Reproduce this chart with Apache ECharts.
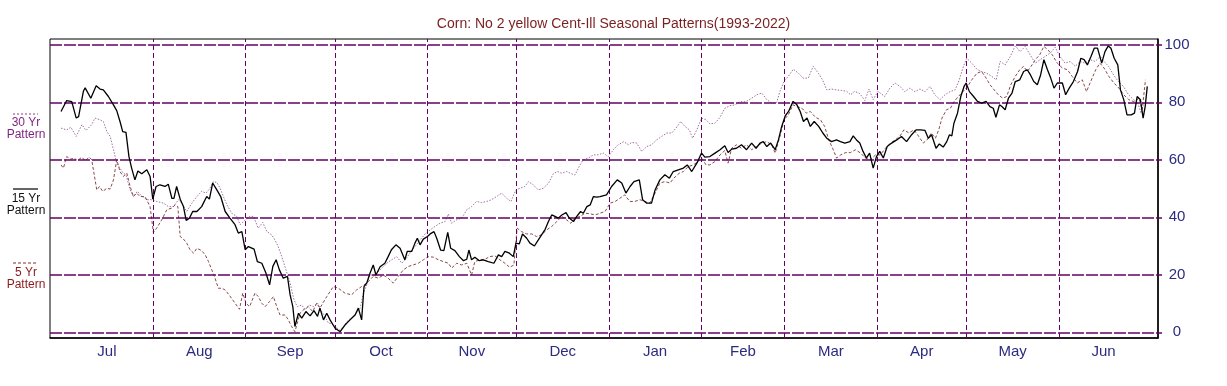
<!DOCTYPE html>
<html><head><meta charset="utf-8">
<script src="https://cdn.jsdelivr.net/npm/echarts@6/dist/echarts.min.js"></script>
<style>html,body{margin:0;padding:0;background:#fff}#c{width:1227px;height:386px}</style>
</head><body><div id="c"></div>
<script>
// x = calendar day counted from July 1 (season year), y = seasonal index 0..100
const monthNames = ['Jul','Aug','Sep','Oct','Nov','Dec','Jan','Feb','Mar','Apr','May','Jun'];
const monthStartDays = [0,31,62,92,123,153,184,215,243,274,304,335,365];
const yTicks = [0,20,40,60,80,100];

const days15 = [0.1,2,3.7,5.2,6,7.6,8.2,10.1,11.9,13.2,14.3,16,17.7,18.8,19.9,20.8,21.9,22.9,23.8,24.9,25.9,27.2,28.9,30,30.9,32,33.3,35,36.1,37.3,38,38.9,40.1,41.2,42.1,43.2,44.3,45.7,47.3,49,49.9,51,52.4,53.7,55.2,56.8,58.5,59.6,60.8,61.9,63,63.6,64.9,66,67.5,68.9,70.1,71.2,72.3,73.4,74.7,76.1,77,77.9,78.6,79.8,80.9,82.3,83.7,85,86.2,87,88.2,89.3,90.4,92.1,93.8,95.4,97.1,98.8,99.9,101,101.8,102.7,103.8,104.9,105.8,107.2,108.8,109.9,111,112.5,113.9,115.5,116.3,117.8,118.9,119.7,120.6,121.7,123.1,124,125.3,126.2,127.5,128.6,129.9,130.9,132.3,133.8,135.2,136.3,137,137.9,139,140.5,141.8,143.5,145.4,146.9,148,149.1,150.6,151.9,152.8,153.9,155,156.4,157.5,159,160.3,161.4,162.6,163.7,164.8,165.9,167,168.2,169.6,170.7,172.1,173.2,174.5,175.4,176.6,177.7,178.8,179.9,181,183.2,184.9,186.8,188.3,189.7,191.1,192.4,194.2,195.3,196.7,198.3,199.5,201.1,202.8,204.3,205.6,207.3,209,210.3,211.8,213.5,215.1,216.2,217.9,219.6,221.3,222.9,224,225.2,226.8,228.5,230.2,231.9,233.4,234.7,235.8,237,238.3,239.8,240.9,242,243.2,244.3,245.8,247.1,248.2,249.3,250.5,251.6,252.9,254.4,255.8,257.1,258.7,260.4,261.7,263.2,264.9,266,267.1,268.2,269.3,270.4,271.5,272.7,273.8,274.9,276.1,277.4,278.9,280.6,282.2,283.9,285.6,287.1,288.6,290.1,291.2,292.3,293.8,294.9,296.2,297.4,298.3,299.1,299.8,301,302.1,303.2,303.9,305,306.4,307.7,309.1,310.6,311.9,313,313.9,315.1,315.9,317,318.1,319.3,320.4,321.9,323.2,324.4,325.5,326.6,327.8,328.9,330,331.2,332.3,333.4,334.5,336.2,337.3,338.5,339.9,341.3,342.4,343.5,344.6,345.8,346.9,348,349.4,350.5,351.6,352.5,353.6,354.8,355.7,356.8,357.9,359.3,360.4,361.3,362.4,363.3,364,364.7];
const vals15 = [76.8,80.6,80.2,74.5,75,83.8,85,81.4,85.7,84.6,84.3,82,79.1,77.1,73.3,69.8,69.5,61.1,57.1,53,56.1,55.1,56.5,54.2,46.3,50.7,51.3,50.7,51.5,46.6,46.6,50.7,46.3,43.7,38.9,39.7,42,42,43.7,47.2,46.3,51.9,49.5,47.2,42,39.7,37.4,34.5,35,28.7,29.8,30,28.9,24.6,24,20.5,16.5,22.9,25.2,21.7,18.8,19.4,13,8.9,2,6.6,4.9,7.2,5.7,7.5,5.5,8.4,4.3,6.6,4.3,1.4,0.2,2.5,4.3,6,8.4,4.3,15.9,17.1,20.5,23.4,19.9,22.8,24,26.3,28.7,30.4,29.2,25.2,28.1,28.1,31,32.7,30.4,32.4,33.3,34.2,35,32.7,28.6,28.4,34.7,29.2,28.4,26.3,24.9,25.4,28.6,25.2,26.1,24.9,25.2,24.6,24,26.9,26.3,28.1,27.5,26.3,31,30.7,34.2,32.7,31,30,32.1,33.9,35.8,38.5,40.8,40.3,39.7,40.8,41.6,39.7,38.5,40.3,42,41.4,43.7,44.3,47.2,47,47.2,47.8,50.7,53,51.9,48.4,50.7,52.4,53,46.1,44.9,44.9,49.5,53,54.8,53.6,55.9,56.5,57.1,58.2,55.9,58.8,62.3,60.9,61.1,62.3,63.5,64.9,62.5,63.7,64,65.2,63.5,65.8,64,65.8,66.3,64.6,65.8,63.5,66.9,71.6,75.3,76.8,80.3,79.1,76.8,73.3,74.5,71.6,73.3,71.6,69.3,67.5,66.3,66.9,66.3,65.8,66.3,68.3,66.9,65.8,62.9,60.6,62.3,57.1,61.1,62.9,60.6,64.6,65.8,66.9,68.1,66.3,68.7,70.4,70.4,70.2,67.5,68.7,64,65.5,64.4,66.3,68.7,68.3,72.7,76.2,82,85.5,86.7,83.7,82,80.3,79.7,80.3,78.5,77.9,74.8,79.1,78.5,77.4,81.4,83.2,87.2,87.8,90.7,91.3,89.5,87.2,86.1,89.5,94.8,91.3,88.4,84.9,86.7,86.7,82.6,84.9,87.2,90.7,95.3,94.8,93,95.9,98.8,98.8,93.6,97.6,99.6,98.8,95.3,93,84.3,80.9,75.6,75.6,76.2,82,80.9,74.5,78.5,85.5];

const days30 = [0.1,2,3.4,5.2,7.1,8.5,10.4,11.5,13.2,14.3,15.5,16.6,17.7,18.8,19.9,21,21.9,23.3,24.4,25.7,27.2,28.9,30.5,32.2,34.5,36.1,37.8,39.5,40.6,42.3,44,45.7,47.3,48.8,50.1,51.2,52.4,53.5,54.6,55.8,57.4,59.1,60.2,61.9,63.4,64.7,66.3,67.8,69.2,70.8,71.9,73,74.2,75.6,77,78.3,79.4,80.9,82,83.4,84.8,86.2,87.6,88.7,89.9,91,92.1,93.6,94.9,96.6,98.1,99.3,100.5,101.6,102.5,103.8,105.5,107.2,109.4,111.1,112.8,114.5,116.1,117.5,118.9,120.6,122.3,124,125.6,127.3,129,130.1,131.2,132.9,134.6,136.3,137.9,139.6,141.3,143,144.6,146.3,148,149.7,151.1,152.8,154.2,155.8,157,158.6,160.3,162,163.7,165.3,166.7,168.2,169.8,171.5,172.6,174.3,175.4,177.1,178.8,180.4,182.1,183.8,185.5,187.1,189,190.5,191.6,193.3,195,196.7,198.3,200,201.7,203.4,205.1,206.5,208.1,209.5,211,212.1,213.5,215.1,216.6,217.9,219.6,221.3,222.9,224.6,226.3,228,230,231.9,233.6,235.3,237,238.6,240.3,241.4,242.8,244.2,245.9,247.6,249.2,250.9,252.6,254.3,255.7,257.1,258.7,260.4,262.1,263.8,265.1,266.5,268.2,269.9,271.3,272.7,274.3,276.6,278.3,280,281.7,283.3,285,286.7,288.4,290.1,291.8,293.4,295.1,296.8,298.5,300.2,301.6,303,304.1,305.8,307.5,309.1,310.8,312.5,314,315.3,317,318.7,320.4,322,323.7,325.4,327.1,328.7,330.4,332.1,333.8,335.4,337.1,338.8,340.5,342.2,343.8,345.5,347.2,348.9,350.2,351.7,353.4,355,356.7,358.4,360.1,361.4,362.6,363.5];
const vals30 = [71,70.4,71.3,68.1,72.2,70.2,72.2,74.5,73.9,73.3,69.8,68.1,63.5,58.8,57.1,55.3,54.8,49.5,47.2,49,47.4,46.1,46.1,45.5,44.9,43.7,43.7,46.1,44.9,42,44.9,47.2,49,48.4,50.1,52.4,52.1,50.1,47.2,44.3,41.4,40.3,37.4,39.1,40.3,40.3,36.2,38.2,35,33.9,32.1,29.8,26.3,21.7,17.1,11.3,8.9,9.5,7.8,9.5,8.9,10.1,7.2,5.5,3.1,3.1,2,0.8,2,4.3,5.5,6.8,8.4,13.6,15.9,19.9,19.9,21.7,24,25.2,26.3,24,25.8,28.1,29.8,32.1,34.2,35.6,36.8,37.9,38.5,41.1,37.9,39.1,39.7,42.6,43.7,45.5,45.1,45.5,46.1,47.2,48.4,46.6,45.5,49.5,50.1,50.7,52.4,51.3,49.5,50.1,51.8,55.1,55.9,55.3,55.9,55.1,54.7,58.2,60,60.6,61.7,61.7,62.3,61.1,63.5,65.2,66.3,65.2,66,65.8,62.9,64.6,65.2,66.9,68.1,69.3,69.3,71,73.3,71.6,70.4,67.5,70.4,74.5,73.9,72.5,72.7,74.8,77.9,78.8,79.1,80.2,80.2,81.4,82.6,83.2,80.9,79.7,79.9,83.8,87.3,89,91.5,90.1,88.4,88.4,92.5,90.1,87.8,84.3,84.6,84.3,84.1,83.8,82.6,83.8,83,80.6,84.6,80.9,83.8,82,84.9,86.7,85.5,83.7,84.9,83.7,84.6,83.7,85.5,82.6,80.9,82.6,83.7,84.3,87.8,92.5,95.3,93.6,91.5,90.7,90.1,89,87.8,94.2,93,95.9,99.6,97.6,99.4,96.5,93.6,94.8,95.9,97.1,99.1,95.9,93.6,94.2,92.5,94.2,93.6,94.8,94.2,95.9,94.2,92.5,89.5,87.2,85.5,82.6,80.9,80.2,76.2,79.7];

const days5 = [0.1,0.9,2,3.4,4.5,5.6,7.1,8.2,9.6,10.4,12.1,13,14.1,15.5,16.6,17.7,18.8,19.9,21,22.2,23.3,24.4,25.5,26.6,28.3,30,31.1,32.2,33.9,35.6,37.3,38.4,39.3,40.1,41.2,42.3,43.4,44.6,45.7,47.3,48.5,49.6,50.7,51.8,52.9,54.1,55.2,56.8,58.5,60,61.1,62.2,63.4,65.2,66.3,67.5,68.6,70.1,71.4,72.5,73.6,75.3,76.4,77.5,78.6,79.4,80.3,81.7,83.1,84.6,85.9,87,89.3,91.5,93.2,95.4,97.6,99.3,101,102.7,104.9,106.6,108.3,109.9,111.6,113.3,115,116.7,118.3,120,121.7,123.4,125.1,126.8,128.4,130.1,131.2,132.9,134.6,136.3,137.9,139,140.7,142.4,144,145.7,147.4,149.1,150.7,152.1,153.2,154.7,156.4,158.1,159.7,161.4,163.1,164.8,166.5,168.2,169.8,171.2,172.6,174.3,176,177.7,179.4,181,182.7,184.4,186.1,187.7,189.3,191,192.7,194.4,196,197.7,199.5,201.1,202.8,204.5,205.8,207.6,209,210.6,212.3,214,215.1,216.6,217.9,219.6,221.3,222.9,224,225.2,226.8,228.5,230.2,231.9,233.6,235.3,237,238.6,239.8,241.4,242.8,244.2,245.8,247.1,248.8,250.3,251.6,253.3,255,256.4,257.8,259.3,260.4,261.8,263.5,265.1,266.8,268.5,270.1,271.8,273.5,275.1,276.8,278.5,280.1,281.6,283,284.7,286.4,288,289.5,290.8,292.2,293.6,294.7,295.8,297.3,298.6,299.9,301.3,302.8,304.4,305.8,307.5,309.1,310.6,311.9,313.3,314.7,316.2,317.5,318.9,320.4,321.9,323.2,324.4,325.7,327.1,328.6,330,331.3,332.8,334.5,336.2,337.9,339.5,341.2,342.9,344.3,345.7,347.4,348.8,350.2,351.8,353.5,355.2,356.8,358.5,360.2,361.9,363,364.1];
const vals5 = [58.2,57.1,61.1,60.2,60.6,59.7,60.9,59.7,60.9,60,49.5,50.7,49,50.1,49.8,53,60,55.9,54.2,55.3,50.7,47.2,48.4,47.2,47.2,43.7,34.7,36.2,39.1,42.6,43.2,44.3,43.7,33.3,32.4,31,28.7,27.5,29.2,28.4,26.9,24.6,21.7,18.8,15.3,15.3,14.7,12.6,10.1,8,13.6,10.1,8.9,13.6,12.4,10.1,8.9,10.7,12.4,8.9,6,6,4.3,2,0.2,3.1,6.6,8,8.9,7.2,10.1,8.4,12.4,15.9,15.3,13.6,13,14.7,15.9,17.1,19.4,18.8,19.9,18.8,17.1,19.4,21.7,22.9,23.4,24,25.2,26.3,26.1,25.2,24.6,24,22.3,24,23.4,24,19.9,24.6,25.2,25.4,26.3,26.6,25.2,24,22.6,23.4,36.2,35,34.2,34.2,33.3,33.9,35.6,36.8,38.5,40.3,39.1,37.9,39.7,40.3,41.4,41.2,40.8,41.4,42,44.9,45.5,46.6,47.8,45.5,45.5,46.1,45.5,44.9,48.4,51.9,52.4,51.9,53.6,55.3,55.9,57.6,58.2,59.4,60.6,58.2,58.2,59.4,61.7,63.2,58.8,64,65.2,64,65.2,63.5,64.6,65.8,66.3,65.2,62.3,68.1,73.9,75.6,79.1,78.5,77.9,76.2,76.8,74.8,73.9,71.6,66.9,63.5,60.6,61.7,62.5,62.5,63.5,62.3,60.6,60,61.7,61.7,64,65.8,66.9,68.1,70.4,69.3,70.4,68.1,65.8,66.9,69.3,67.5,70.4,74.5,77.4,77.9,80.3,82,83.7,85.5,87.8,90.1,90.7,88.4,86.1,84.3,82.6,81.4,82,86.1,89,91.3,92.5,90.7,92.5,94.8,96.5,99.4,98.3,96.5,93.6,91.9,91.3,89,86.7,87.8,83.7,87.2,91.3,93.6,91.9,89,86.7,84.9,82.6,80.9,80.2,81.4,77.4,87.8];

const toPairs = (d, v) => d.map((x, i) => [x, v[i]]);
const labelDays = monthNames.map((m, i) => (monthStartDays[i] + monthStartDays[i + 1]) / 2);
const gridPurple = '#660066';

const chart = echarts.init(document.getElementById('c'), null, {renderer: 'canvas'});
const hLines = yTicks.map(v => ({yAxis: v, lineStyle: {color: gridPurple, width: 1.5, type: [12, 2]}}));
const vLines = monthStartDays.slice(1, 12).map(d => ({xAxis: d, lineStyle: {color: gridPurple, width: 1, type: [5, 3]}}));

chart.setOption({
  animation: false,
  backgroundColor: '#ffffff',
  title: {
    text: 'Corn: No 2 yellow Cent-Ill Seasonal Patterns(1993-2022)',
    left: 'center', top: 12,
    textStyle: {color: '#7a1f1f', fontSize: 14, fontWeight: 'normal', fontFamily: 'Liberation Sans, Arial, sans-serif'}
  },
  grid: {left: 50, right: 69, top: 39, bottom: 48, show: true, borderColor: '#000', borderWidth: 1, backgroundColor: 'transparent'},
  xAxis: {
    type: 'value', min: -3.6, max: 368.3,
    splitLine: {show: false}, axisTick: {show: false},
    axisLine: {show: true, onZero: false, lineStyle: {color: '#000', width: 1.5}},
    axisLabel: {
      customValues: labelDays, margin: 6,
      color: '#2b2b80', fontSize: 15, fontFamily: 'Liberation Sans, Arial, sans-serif',
      formatter: v => monthNames[labelDays.indexOf(v)] || ''
    }
  },
  yAxis: {
    type: 'value', position: 'right', min: -2, max: 102,
    splitLine: {show: false},
    axisLine: {show: true, onZero: false, lineStyle: {color: '#000', width: 1.5}},
    axisTick: {show: true, customValues: yTicks, length: 4, lineStyle: {color: gridPurple, width: 1.5}},
    axisLabel: {
      customValues: yTicks, align: 'center', margin: 19,
      color: '#2b2b80', fontSize: 15, fontFamily: 'Liberation Sans, Arial, sans-serif'
    }
  },
  graphic: [
    {type: 'line', shape: {x1: 13, y1: 114, x2: 38, y2: 114}, style: {stroke: '#8a3a8a', lineWidth: 1, lineDash: [2, 2]}},
    {type: 'text', style: {text: '30 Yr\nPattern', x: 26, y: 117, fill: '#7f1f7f', font: '12px Liberation Sans, Arial', textAlign: 'center', lineHeight: 12}},
    {type: 'line', shape: {x1: 13, y1: 189, x2: 38, y2: 189}, style: {stroke: '#000', lineWidth: 1.2}},
    {type: 'text', style: {text: '15 Yr\nPattern', x: 26, y: 193, fill: '#111', font: '12px Liberation Sans, Arial', textAlign: 'center', lineHeight: 12}},
    {type: 'line', shape: {x1: 13, y1: 263, x2: 38, y2: 263}, style: {stroke: '#8b2a2a', lineWidth: 1, lineDash: [3, 2]}},
    {type: 'text', style: {text: '5 Yr\nPattern', x: 26, y: 267, fill: '#8b1a1a', font: '12px Liberation Sans, Arial', textAlign: 'center', lineHeight: 12}}
  ],
  series: [
    {
      name: 'grid', type: 'line', data: [], silent: true,
      markLine: {silent: true, symbol: 'none', label: {show: false}, data: hLines.concat(vLines)}
    },
    {name: '30 Yr Pattern', type: 'line', data: toPairs(days30, vals30), showSymbol: false, lineStyle: {color: '#a070a0', width: 1, type: [1.5, 1.5]}, z: 3},
    {name: '5 Yr Pattern', type: 'line', data: toPairs(days5, vals5), showSymbol: false, lineStyle: {color: '#8b4a4a', width: 1, type: [3, 2]}, z: 4},
    {name: '15 Yr Pattern', type: 'line', data: toPairs(days15, vals15), showSymbol: false, lineStyle: {color: '#000', width: 1.3}, z: 5}
  ]
});
</script></body></html>
